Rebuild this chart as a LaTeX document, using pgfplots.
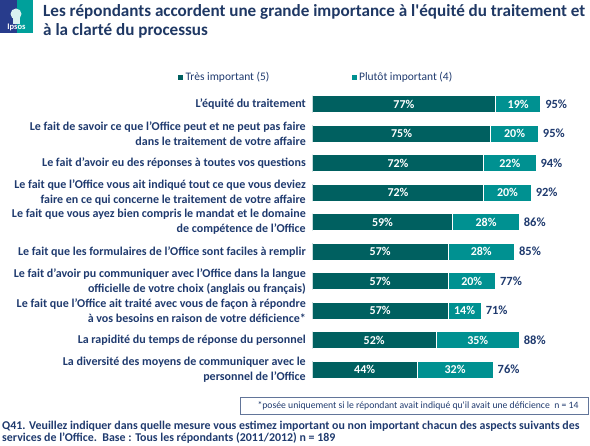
\documentclass[border=0pt]{standalone}
\usepackage{fontspec}
\setmainfont{Carlito}
\usepackage{pgfplots}
\usepackage{pgfplotstable}
\pgfplotsset{compat=1.18}
\definecolor{darkteal}{RGB}{0,96,96}
\definecolor{lightteal}{RGB}{0,145,145}
\definecolor{navy}{RGB}{31,56,100}
\definecolor{lblue}{RGB}{31,58,110}
\definecolor{ipsosblue}{RGB}{40,60,140}
\definecolor{ipsosteal}{RGB}{0,160,155}
\pgfplotstableread{
idx a b tot
0 77 19 95
-1 75 20 95
-2 72 22 94
-3 72 20 92
-4 59 28 86
-5 57 28 85
-6 57 20 77
-7 57 14 71
-8 52 35 88
-9 44 32 76
}\datatable
\pgfplotsset{commonaxis/.style={
  at={(312.3pt,61.55pt)}, anchor=south west,
  scale only axis, width=238pt, height=295pt,
  xmin=0, xmax=100, ymin=-9.5, ymax=0.5,
}}
\begin{document}
\begin{tikzpicture}
\path[use as bounding box] (0pt,0pt) rectangle (590pt,446pt);
% logo
\fill[ipsosblue] (0pt,413pt) rectangle (17pt,446pt);
\fill[ipsosteal] (17pt,413pt) rectangle (33pt,446pt);
\fill[white!85!ipsosteal] (16pt,432pt) circle (5.5pt);
\fill[white!85!ipsosteal] (13pt,422pt) rectangle (20pt,430pt);
\node[anchor=base, text=white, font=\bfseries\fontsize{8.5}{9}\selectfont, inner sep=0] at (16.5pt,416pt) {Ipsos};
% title
\node[anchor=base west, inner sep=0, text=navy, font=\bfseries\fontsize{17.1}{19}\selectfont] at (43pt,429pt) {Les répondants accordent une grande importance à l\textquotesingle équité du traitement et};
\node[anchor=base west, inner sep=0, text=navy, font=\bfseries\fontsize{17.1}{19}\selectfont] at (43pt,410pt) {à la clarté du processus};
\begin{axis}[
  commonaxis,
  xbar stacked, bar width=17pt,
  axis line style={draw=none}, major tick style={draw=none},
  xtick=\empty,
  ytick={0,-1,-2,-3,-4,-5,-6,-7,-8,-9},
  yticklabels={
    {L’équité du traitement},
    {Le fait de savoir ce que l’Office peut et ne peut pas faire\\dans le traitement de votre affaire},
    {Le fait d’avoir eu des réponses à toutes vos questions},
    {Le fait que l’Office vous ait indiqué tout ce que vous deviez\\faire en ce qui concerne le traitement de votre affaire},
    {Le fait que vous ayez bien compris le mandat et le domaine\\de compétence de l’Office},
    {Le fait que les formulaires de l’Office sont faciles à remplir},
    {Le fait d’avoir pu communiquer avec l’Office dans la langue\\officielle de votre choix (anglais ou français)},
    {Le fait que l’Office ait traité avec vous de façon à répondre\\à vos besoins en raison de votre déficience*},
    {La rapidité du temps de réponse du personnel},
    {La diversité des moyens de communiquer avec le\\personnel de l’Office}},
  yticklabel style={align=right, text=lblue, font=\bfseries\fontsize{12}{15}\selectfont, xshift=-3pt},
  legend style={at={(axis description cs:-0.582,1.042)}, anchor=west, draw=none, fill=none,
    legend columns=2, font=\fontsize{11.5}{13}\selectfont, text=lblue,
    /tikz/every even column/.append style={column sep=79pt}},
  legend image code/.code={\fill[#1] (0pt,-3pt) rectangle (6pt,3pt);},
]
\addplot[fill=darkteal, draw=white, line width=0.6pt] table[x=a, y=idx] {\datatable};
\addlegendentry{Très important (5)}
\addplot[fill=lightteal, draw=white, line width=0.6pt] table[x=b, y=idx] {\datatable};
\addlegendentry{Plutôt important (4)}
\end{axis}
% labels
\begin{axis}[commonaxis, hide axis, point meta=explicit symbolic]
\addplot[draw=none, mark=none, nodes near coords={\pgfplotspointmeta\%},
  every node near coord/.append style={anchor=center, text=white, font=\bfseries\fontsize{12}{14}\selectfont}]
  table[x expr=\thisrow{a}/2, y=idx, meta=a] {\datatable};
\addplot[draw=none, mark=none, nodes near coords={\pgfplotspointmeta\%},
  every node near coord/.append style={anchor=center, text=white, font=\bfseries\fontsize{12}{14}\selectfont}]
  table[x expr=\thisrow{a}+\thisrow{b}/2, y=idx, meta=b] {\datatable};
\addplot[draw=none, mark=none, nodes near coords={\pgfplotspointmeta\%},
  every node near coord/.append style={anchor=west, text=lblue, font=\bfseries\fontsize{12.5}{14}\selectfont, xshift=1pt}]
  table[x expr=\thisrow{a}+\thisrow{b}, y=idx, meta=tot] {\datatable};
\end{axis}
% footnote box
\draw[draw=lblue!70, line width=0.6pt] (240pt,32pt) rectangle (588pt,49pt);
\node[anchor=center, inner sep=0, text=lblue, font=\fontsize{9.7}{10}\selectfont] at (418pt,40.5pt) {*posée uniquement si le répondant avait indiqué qu\textquotesingle il avait une déficience~~n = 14};
% bottom text
\node[anchor=base west, inner sep=0, text=lblue, font=\bfseries\fontsize{11.9}{13}\selectfont] at (2pt,16pt) {Q41. Veuillez indiquer dans quelle mesure vous estimez important ou non important chacun des aspects suivants des};
\node[anchor=base west, inner sep=0, text=lblue, font=\bfseries\fontsize{11.9}{13}\selectfont] at (2pt,4pt) {services de l’Office.~~Base : Tous les répondants (2011/2012) n = 189};
\end{tikzpicture}
\end{document}
